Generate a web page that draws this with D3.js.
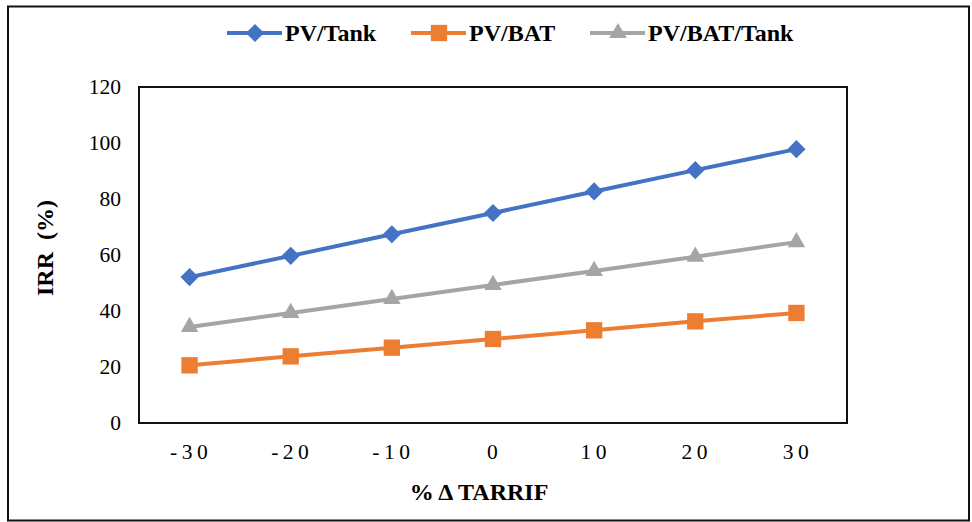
<!DOCTYPE html>
<html><head><meta charset="utf-8">
<script src="https://cdn.jsdelivr.net/npm/d3@7"></script>
<style>body{margin:0;background:#fff}svg{display:block}</style>
</head><body>
<svg id="c" width="972" height="522" font-family="Liberation Serif"></svg>
<script>
const categories = ["-30","-20","-10","0","10","20","30"];
const pvTank = [52.1, 59.7, 67.4, 75.0, 82.7, 90.3, 97.8];
const pvBat = [20.6, 23.8, 26.9, 30.0, 33.1, 36.3, 39.3];
const pvBatTank = [34.3, 39.3, 44.3, 49.3, 54.3, 59.4, 64.6];
const yTicks = [0,20,40,60,80,100,120];
const seriesNames = ["PV/Tank","PV/BAT","PV/BAT/Tank"];

const series = [
  {name: seriesNames[0], values: pvTank, color: "#4472C4", sym: d3.symbolDiamond2, size: 210},
  {name: seriesNames[1], values: pvBat, color: "#ED7D31", sym: d3.symbolSquare2, size: 340},
  {name: seriesNames[2], values: pvBatTank, color: "#A5A5A5", sym: d3.symbolTriangle2, size: 220}
];

const FONT = "Liberation Serif";
const svg = d3.select("#c");
// outer frame
svg.append("rect").attr("x",8).attr("y",6.5).attr("width",961).attr("height",514)
  .attr("fill","none").attr("stroke","#111").attr("stroke-width",2);

const L=139, R=847, T=87, B=423;
const x = d3.scalePoint().domain(categories).range([L,R]).padding(0.5);
const y = d3.scaleLinear().domain([0,120]).range([B,T]);

// plot frame
svg.append("rect").attr("x",L).attr("y",T).attr("width",R-L).attr("height",B-T)
  .attr("fill","none").attr("stroke","#111").attr("stroke-width",2);

// y axis
const ya = svg.append("g").attr("transform",`translate(${L},0)`)
  .call(d3.axisLeft(y).tickValues(yTicks).tickSize(0).tickPadding(18));
ya.select(".domain").remove();
ya.attr("font-family",FONT).attr("font-size",21.5);
ya.selectAll("text").attr("fill","#000");

// x axis
const xa = svg.append("g").attr("transform",`translate(0,${B})`)
  .call(d3.axisBottom(x).tickSize(0).tickPadding(21));
xa.select(".domain").remove();
xa.attr("font-family",FONT).attr("font-size",21.5);
xa.selectAll("text").attr("fill","#000")
  .attr("letter-spacing","4.5px").attr("dx","1px");

// titles
svg.append("text").attr("x",479).attr("y",500).attr("text-anchor","middle")
  .attr("font-family",FONT).attr("font-size",24).attr("font-weight","bold").text("% Δ TARRIF");
svg.append("text").attr("transform","translate(53,248) rotate(-90)").attr("text-anchor","middle")
  .attr("font-family",FONT).attr("font-size",24).attr("font-weight","bold")
  .attr("xml:space","preserve").style("white-space","pre").text("IRR  (%)");

// lines
const line = d3.line().x((d,i)=>x(categories[i])).y(d=>y(d));
series.forEach(s=>{
  svg.append("path").attr("d",line(s.values)).attr("fill","none")
    .attr("stroke",s.color).attr("stroke-width",4);
  svg.selectAll(null).data(s.values).enter().append("path")
    .attr("transform",(d,i)=>`translate(${x(categories[i])},${y(d)})`)
    .attr("d",d3.symbol().type(s.sym).size(s.size)).attr("fill",s.color);
});

// legend
const legX = [227, 411, 590];
series.forEach((s,i)=>{
  const g = svg.append("g").attr("transform",`translate(${legX[i]},33)`);
  g.append("line").attr("x1",0).attr("x2",55).attr("y1",0).attr("y2",0)
    .attr("stroke",s.color).attr("stroke-width",4);
  g.append("path").attr("transform","translate(28,0)").attr("d",d3.symbol().type(s.sym).size(s.size)).attr("fill",s.color);
  g.append("text").attr("x",58).attr("y",8).attr("font-family",FONT).attr("font-size",24)
    .attr("font-weight","bold").text(s.name);
});
</script>
</body></html>
